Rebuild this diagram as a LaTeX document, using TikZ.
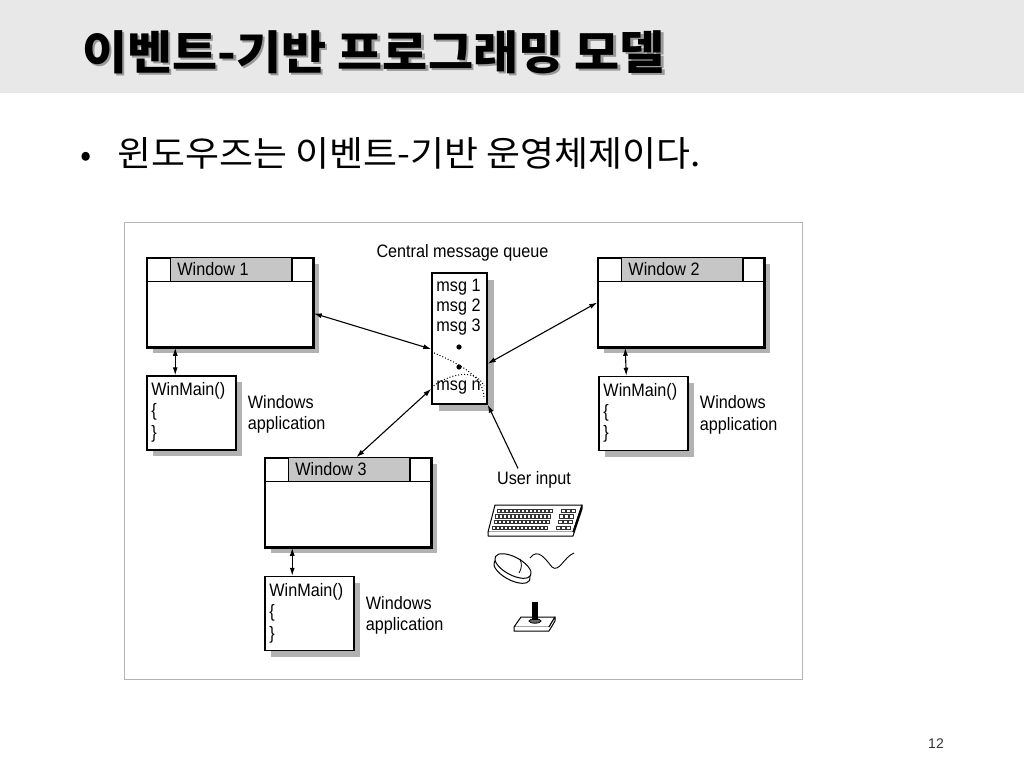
\documentclass[tikz,border=0pt]{standalone}
\usepackage{fontspec}
\setmainfont{Liberation Sans}
\newfontfamily\krfont{Noto Sans CJK KR}
\newfontfamily\diagfont[FakeStretch=0.9]{Liberation Sans}
\usetikzlibrary{arrows.meta,shadows,calc}
\definecolor{bandgray}{HTML}{E8E8E8}
\definecolor{bargray}{HTML}{C6C6C6}
\definecolor{shadowgray}{HTML}{B2B2B2}
\definecolor{framegray}{HTML}{B4B4B4}
\tikzset{
  winframe/.style={draw, line width=1.5pt, fill=white, inner sep=0pt,
    minimum width=166pt, minimum height=89pt,
    drop shadow={shadow xshift=6pt, shadow yshift=-6pt, fill=shadowgray, opacity=1}},
  codebox/.style={draw, line width=1.5pt, fill=white, inner sep=0pt,
    minimum width=89pt, minimum height=74pt,
    drop shadow={shadow xshift=6pt, shadow yshift=-6pt, fill=shadowgray, opacity=1}},
  queuebox/.style={draw, line width=1.5pt, fill=white, inner sep=0pt,
    minimum width=55pt, minimum height=131pt,
    drop shadow={shadow xshift=6.5pt, shadow yshift=-6.5pt, fill=shadowgray, opacity=1}},
  difont/.style={font=\diagfont\fontsize{18}{21.5}\selectfont, inner sep=0pt},
  codetext/.style={difont, anchor=north west, align=left},
  headfont/.style={font=\krfont\bfseries\fontsize{46}{52}\selectfont, inner sep=0pt, anchor=base west},
  link/.style={line width=1.1pt, {Latex[length=8pt,width=5pt]}-{Latex[length=8pt,width=5pt]}},
  feed/.style={line width=1.1pt, -{Latex[length=8pt,width=5pt]}},
  trail/.style={line width=1pt, dotted},
  device/.style={line width=1pt, fill=white, line join=round},
}
\begin{document}
\begin{tikzpicture}[x=1pt,y=-1pt]
\useasboundingbox (0,0) rectangle (1024,768);
% title band
\fill[bandgray] (0,0) rectangle (1024,93);
\node[headfont, text=black!40] at (84.5,71.5) {\scalebox{1.066}[1]{이벤트-기반 프로그래밍 모델}};
\node[headfont] (title) at (82,69) {\scalebox{1.066}[1]{이벤트-기반 프로그래밍 모델}};
\node[anchor=base west, inner sep=0pt, font=\krfont\fontsize{33}{40}\selectfont] (bullet) at (80,166) {•};
\node[anchor=base west, inner sep=0pt, font=\krfont\fontsize{35}{42}\selectfont] (line) at (117,166) {\scalebox{1.055}[1]{윈도우즈는 이벤트-기반 운영체제이다.}};
\node[anchor=base east, inner sep=0pt, text=black!80, font=\fontsize{14}{16}\selectfont] (page) at (944,748) {12};
% figure frame
\draw[framegray, line width=1pt] (124,222) rectangle (802,679);

% windows
\node[winframe] (w1) at (230,302.5) {};
\node[winframe] (w2) at (681,302.5) {};
\node[winframe] (w3) at (348,502.5) {};
\fill[bargray] ($(w1.north west)+(24,0)$) rectangle ($(w1.north east)+(-22,24)$);
\fill[bargray] ($(w2.north west)+(24,0)$) rectangle ($(w2.north east)+(-22,24)$);
\fill[bargray] ($(w3.north west)+(24,0)$) rectangle ($(w3.north east)+(-22,24)$);
\draw[line width=1.5pt] ($(w1.north west)+(0,24)$) -- ($(w1.north east)+(0,24)$)
  ($(w1.north west)+(24,0)$) -- ++(0,24) ($(w1.north east)+(-22,0)$) -- ++(0,24);
\draw[line width=1.5pt] ($(w2.north west)+(0,24)$) -- ($(w2.north east)+(0,24)$)
  ($(w2.north west)+(24,0)$) -- ++(0,24) ($(w2.north east)+(-22,0)$) -- ++(0,24);
\draw[line width=1.5pt] ($(w3.north west)+(0,24)$) -- ($(w3.north east)+(0,24)$)
  ($(w3.north west)+(24,0)$) -- ++(0,24) ($(w3.north east)+(-22,0)$) -- ++(0,24);
\draw[line width=1.5pt] (w1.north west) rectangle (w1.south east);
\draw[line width=1.5pt] (w2.north west) rectangle (w2.south east);
\draw[line width=1.5pt] (w3.north west) rectangle (w3.south east);
\node[difont, anchor=west] (t1) at ($(w1.north west)+(31,12)$) {Window 1};
\node[difont, anchor=west] (t2) at ($(w2.north west)+(31,12)$) {Window 2};
\node[difont, anchor=west] (t3) at ($(w3.north west)+(31,12)$) {Window 3};

% WinMain boxes
\node[codebox] (cb1) at (191.5,413) {};
\node[codebox] (cb2) at (643.5,413.5) {};
\node[codebox] (cb3) at (309.5,613.5) {};
\node[codetext] (c1) at ($(cb1.north west)+(5,7)$) {WinMain()\\\{\\\}};
\node[codetext] (c2) at ($(cb2.north west)+(5,7)$) {WinMain()\\\{\\\}};
\node[codetext] (c3) at ($(cb3.north west)+(5,7)$) {WinMain()\\\{\\\}};
\node[codetext] (a1) at ($(cb1.north east)+(11,20)$) {Windows\\application};
\node[codetext] (a2) at ($(cb2.north east)+(11,20)$) {Windows\\application};
\node[codetext] (a3) at ($(cb3.north east)+(11,20)$) {Windows\\application};
\draw[link] ($(w1.south west)+(29,0)$) -- ($(cb1.north west)+(29,0)$);
\draw[link] ($(w2.south west)+(28,0)$) -- ($(cb2.north west)+(28,0)$);
\draw[link] ($(w3.south west)+(28,0)$) -- ($(cb3.north west)+(28,0)$);

% message queue
\node[difont] (cq) at (462.5,253) {Central message queue};
\node[queuebox] (q) at (459.5,338.5) {};
\node[difont, anchor=west] (m1) at ($(q.north west)+(5,15)$) {msg 1};
\node[difont, anchor=west] (m2) at ($(q.north west)+(5,35)$) {msg 2};
\node[difont, anchor=west] (m3) at ($(q.north west)+(5,55)$) {msg 3};
\node[difont, anchor=west] (mn) at ($(q.north west)+(5,115)$) {msg n};
\fill (459,347) circle (2.6) (459,367) circle (2.6);
\draw[trail] ($(q.north west)!0.6!(q.south west)$) .. controls (470,368) and (484,380) .. (484,399);
\draw[trail] ($(q.north west)!0.87!(q.south west)$) .. controls (450,373) and (476,368) .. (484,386);
\draw[trail] (486,370) -- (486,400);

% connectors
\draw[link] ($(w1.north east)!0.62!(w1.south east)$) -- ($(q.north west)!0.58!(q.south west)$);
\draw[link] ($(w3.north west)!0.55!(w3.north east)$) -- ($(q.north west)!0.88!(q.south west)$);
\draw[link] (w2.west) -- ($(q.north east)!0.69!(q.south east)$);
\node[difont] (ui) at (534,480) {User input};
\draw[feed] ([xshift=-16pt,yshift=3pt]ui.north) -- (q.south east);

% keyboard
\draw[device] (495,505) -- (582,505) -- (573,532) -- (488,532) -- cycle;
\draw[device] (488,532) -- (488,536) -- (573,536) -- (582,509) -- (582,505) -- (573,532);
\foreach \r in {0,1,2,3} {
  \foreach \k in {0,...,13}
    \draw[line width=0.4pt, black!80] ({497+\k*4-\r*1.6},{509+\r*5.6}) rectangle ++(3,3.2);
  \foreach \k in {0,1,2}
    \draw[line width=0.4pt, black!80] ({561+\k*5-\r*1.6},{509+\r*5.6}) rectangle ++(4,3.2);
}
% mouse
\draw[device] (512,571) ellipse [x radius=20, y radius=9, rotate=-28];
\draw[device] (513,566) ellipse [x radius=20, y radius=9, rotate=-28];
\draw[line width=0.8pt] (520,559) .. controls (522,564) and (522,568) .. (519,573);
\draw[line width=0.9pt] (530,558) .. controls (538,547) and (546,560) .. (552,567)
  .. controls (559,573) and (564,557) .. (574,553);
% joystick
\draw[device] (521,617) -- (555,617) -- (549,627) -- (514,627) -- cycle;
\draw[device] (514,627) -- (514,631) -- (549,631) -- (555,621) -- (555,617) -- (549,627);
\draw[line width=0.8pt, fill=black!60] (535,621) ellipse [x radius=6, y radius=2.2];
\fill (532,602) rectangle (538,620);
\end{tikzpicture}
\end{document}
